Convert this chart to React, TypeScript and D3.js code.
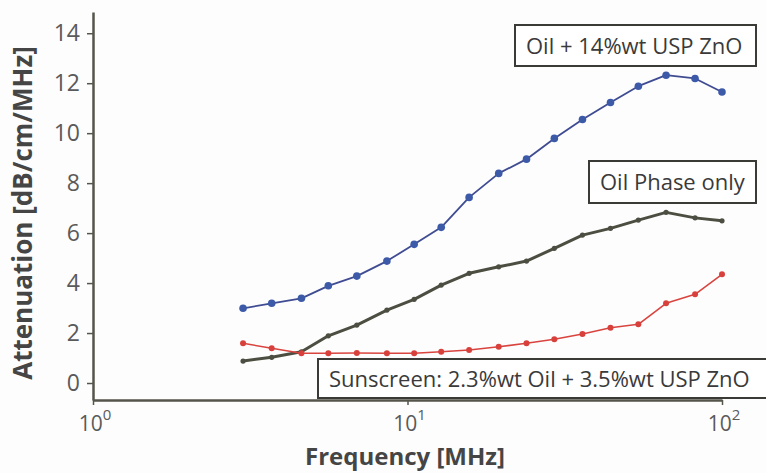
import React, { useEffect, useRef } from 'react';
import * as d3 from 'd3';

// frequency points [MHz]
const freqs = [3.0, 3.7, 4.6, 5.6, 6.9, 8.6, 10.5, 12.8, 15.7, 19.5, 23.9, 29.3, 36.0, 44.2, 54.2, 66.4, 82.1, 100];

// attenuation [dB/cm/MHz]
const zincOxide = [2.99, 3.19, 3.39, 3.89, 4.28, 4.88, 5.55, 6.23, 7.43, 8.39, 8.96, 9.79, 10.55, 11.23, 11.88, 12.32, 12.19, 11.65];
const oilPhase = [0.88, 1.03, 1.25, 1.89, 2.32, 2.92, 3.35, 3.92, 4.39, 4.65, 4.88, 5.39, 5.92, 6.19, 6.52, 6.83, 6.61, 6.49];
const sunscreen = [1.59, 1.39, 1.19, 1.19, 1.2, 1.19, 1.19, 1.25, 1.32, 1.45, 1.59, 1.75, 1.96, 2.21, 2.35, 3.19, 3.55, 4.35];

const yTicks = [0, 2, 4, 6, 8, 10, 12, 14];
const xTicks = [1, 10, 100];

const labels = [
  { text: 'Oil + 14%wt USP ZnO', x0: 515, x1: 756, y0: 25, y1: 66 },
  { text: 'Oil Phase only', x0: 589, x1: 756, y0: 161, y1: 203 },
  { text: 'Sunscreen: 2.3%wt Oil + 3.5%wt USP ZnO', x0: 318, x1: 768, y0: 359, y1: 398 },
];

const FONT = '"Open Sans", "Noto Sans", sans-serif';

export default function App() {
  const svgRef = useRef<SVGSVGElement>(null);
  const width = 766;
  const height = 473;

  useEffect(() => {
    if (!svgRef.current) return;
    const svg = d3.select(svgRef.current);
    svg.selectAll('*').remove();

    svg.append('rect').attr('width', width).attr('height', height).attr('fill', '#fdfdfd');

    const x = d3.scaleLog().domain([1, 100]).range([93, 722]);
    const y = d3.scaleLinear().domain([-0.68, 14.85]).range([400, 12]);

    // axes
    const yAxis = svg
      .append('g')
      .attr('transform', 'translate(93,0)')
      .call(d3.axisLeft(y).tickValues(yTicks).tickSize(6).tickPadding(7).tickSizeOuter(0));
    yAxis.select('.domain').attr('stroke', '#55554b').attr('stroke-width', 2.5);
    yAxis.selectAll('.tick line').attr('stroke', '#55554b').attr('stroke-width', 1.5);
    yAxis
      .selectAll('.tick text')
      .attr('fill', '#5a5a5a')
      .style('font-family', FONT)
      .style('font-size', '23px');

    const xAxis = svg
      .append('g')
      .attr('transform', 'translate(0,400)')
      .call(d3.axisBottom(x).tickValues(xTicks).tickSize(5).tickSizeOuter(0).tickFormat(() => ''));
    xAxis.select('.domain').attr('stroke', '#55554b').attr('stroke-width', 2.5);
    xAxis.selectAll('.tick line').attr('stroke', '#55554b').attr('stroke-width', 1.5);

    const xLabels = svg
      .append('g')
      .selectAll('text')
      .data(xTicks)
      .enter()
      .append('text')
      .attr('x', (d) => x(d) + 2)
      .attr('y', 431)
      .attr('text-anchor', 'middle')
      .attr('fill', '#5a5a5a')
      .style('font-family', FONT)
      .style('font-size', '21px');
    xLabels.append('tspan').text('10');
    xLabels
      .append('tspan')
      .attr('dy', -11)
      .style('font-size', '15px')
      .text((d) => String(Math.round(Math.log10(d))));

    // axis titles
    svg
      .append('text')
      .attr('transform', 'translate(32,213) rotate(-90)')
      .attr('text-anchor', 'middle')
      .attr('fill', '#454545')
      .style('font-family', FONT)
      .style('font-size', '26px')
      .style('font-weight', '700')
      .text('Attenuation [dB/cm/MHz]');

    svg
      .append('text')
      .attr('x', 405)
      .attr('y', 465)
      .attr('text-anchor', 'middle')
      .attr('fill', '#454545')
      .style('font-family', FONT)
      .style('font-size', '24px')
      .style('font-weight', '700')
      .text('Frequency [MHz]');

    // series
    const series = [
      { values: oilPhase, line: '#4b4e40', dot: '#4b4e40', lw: 3, r: 2.6 },
      { values: sunscreen, line: '#d9443f', dot: '#d8403c', lw: 1.6, r: 3 },
      { values: zincOxide, line: '#3f4c92', dot: '#3c5aa8', lw: 1.8, r: 3.8 },
    ];

    const line = d3
      .line<number>()
      .x((_, i) => x(freqs[i]))
      .y((d) => y(d));

    series.forEach((s) => {
      const g = svg.append('g');
      g.append('path')
        .datum(s.values)
        .attr('d', line)
        .attr('fill', 'none')
        .attr('stroke', s.line)
        .attr('stroke-width', s.lw)
        .attr('stroke-linejoin', 'round');
      g.selectAll('circle')
        .data(s.values)
        .enter()
        .append('circle')
        .attr('cx', (_, i) => x(freqs[i]))
        .attr('cy', (d) => y(d))
        .attr('r', s.r)
        .attr('fill', s.dot);
    });

    // label boxes
    labels.forEach((l) => {
      svg
        .append('rect')
        .attr('x', l.x0)
        .attr('y', l.y0)
        .attr('width', l.x1 - l.x0)
        .attr('height', l.y1 - l.y0)
        .attr('fill', '#ffffff')
        .attr('stroke', '#3a3a36')
        .attr('stroke-width', 2);
      svg
        .append('text')
        .attr('x', l.x0 + 11)
        .attr('y', (l.y0 + l.y1) / 2 + 8)
        .attr('fill', '#3a3a3a')
        .style('font-family', FONT)
        .style('font-size', '22px')
        .text(l.text);
    });
  }, []);

  return (
    <svg
      ref={svgRef}
      width={width}
      height={height}
      style={{ position: 'absolute', left: 0, top: 0 }}
    />
  );
}
